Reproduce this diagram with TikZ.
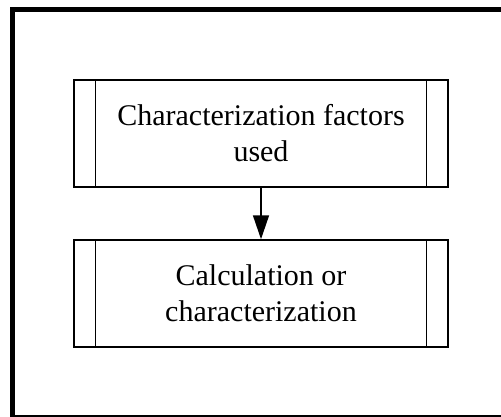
\documentclass[tikz,border=0pt]{standalone}
\usepackage{fontspec}
\setmainfont{Liberation Serif}
\usetikzlibrary{arrows.meta}
\begin{document}
\begin{tikzpicture}[x=1pt,y=-1pt,
  frame/.style={draw=black, line width=5pt},
  procbox/.style={draw=black, line width=1.5pt, minimum width=374pt, minimum height=107pt,
    inner sep=0pt, align=center, font=\fontsize{30}{36}\selectfont,
    path picture={
      \draw[line width=1.5pt] ([xshift=21.5pt]path picture bounding box.north west) -- ([xshift=21.5pt]path picture bounding box.south west);
      \draw[line width=1.5pt] ([xshift=-21.5pt]path picture bounding box.north east) -- ([xshift=-21.5pt]path picture bounding box.south east);
    }},
  flow/.style={line width=1.5pt, -{Triangle[length=24pt,width=16pt]}}
]
\useasboundingbox (0,0) rectangle (501,417);
\clip (0,0) rectangle (501,417);
% outer frame
\draw[frame] (12.5,10) rectangle (510,417.5);
% process steps
\node[procbox] (cf) at (261,133.5) {Characterization factors\\used};
\node[procbox] (calc) at (261,293.5) {Calculation or\\characterization};
% flow
\draw[flow] (cf) -- (calc);
\end{tikzpicture}
\end{document}
